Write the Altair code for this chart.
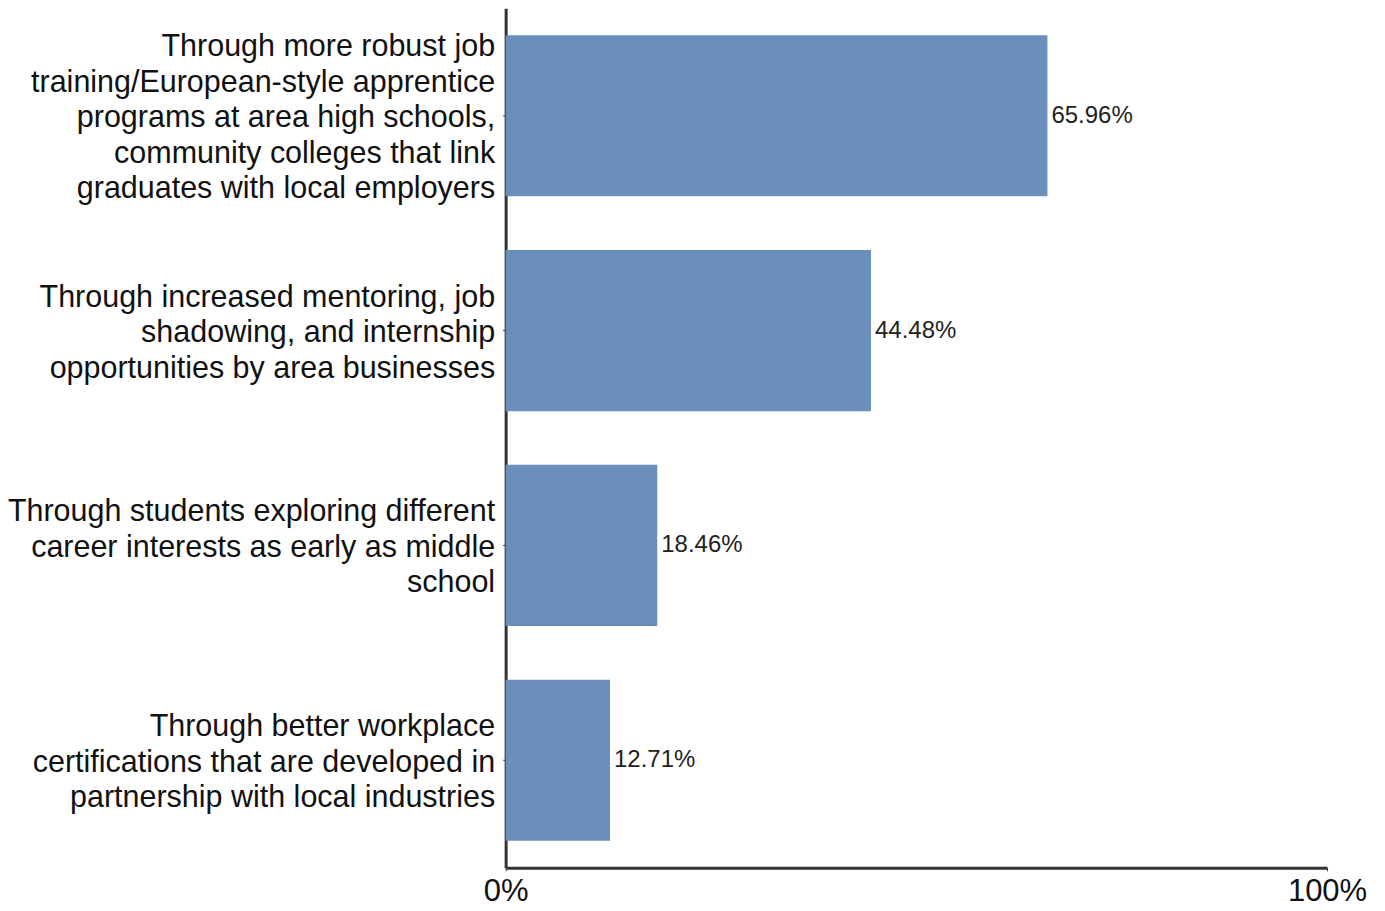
import altair as alt
import pandas as pd

categories = [
    "Through more robust job|training/European-style apprentice|programs at area high schools,|community colleges that link|graduates with local employers",
    "Through increased mentoring, job|shadowing, and internship|opportunities by area businesses",
    "Through students exploring different|career interests as early as middle|school",
    "Through better workplace|certifications that are developed in|partnership with local industries",
]
values = [0.6596, 0.4448, 0.1846, 0.1271]
value_labels = ["65.96%", "44.48%", "18.46%", "12.71%"]

df = pd.DataFrame({"cat": categories, "val": values, "lab": value_labels})

LH = 35.5

y_enc = alt.Y(
    "cat:N",
    sort=categories,
    title=None,
    scale=alt.Scale(paddingInner=0.25, paddingOuter=0.125),
    axis=alt.Axis(
        labelExpr="split(datum.label, '|')",
        labelFontSize=30.5,
        labelLineHeight=LH,
        labelBaseline="middle",
        labelOffset={
            "condition": {"test": "indexof(datum.label, 'robust') >= 0", "value": -2 * LH + 2.5},
            "value": -LH + 2.5,
        },
        labelColor="#111111",
        labelFont="Liberation Sans",
        labelPadding=8,
        labelLimit=0,
        tickSize=3,
        tickColor="#333333",
        domainColor="#333333",
        domainWidth=3,
        grid=False,
    ),
)
x_enc = alt.X(
    "val:Q",
    title=None,
    scale=alt.Scale(domain=[0, 1], nice=False),
    axis=alt.Axis(
        values=[0, 1],
        format=".0%",
        labelFontSize=31,
        labelColor="#111111",
        labelFont="Liberation Sans",
        labelPadding=6,
        tickSize=3,
        tickColor="#333333",
        domainColor="#333333",
        domainWidth=3,
        grid=False,
        labelFlush=False,
    ),
)

bars = alt.Chart(df).mark_bar(color="#6a8fba").encode(x=x_enc, y=y_enc)
texts = alt.Chart(df).mark_text(
    align="left", baseline="middle", dx=4, fontSize=24,
    font="Liberation Sans", color="#222222"
).encode(x="val:Q", y=alt.Y("cat:N", sort=categories), text="lab:N")

chart = (
    (bars + texts)
    .properties(
        width=822,
        height=860,
        background="white",
        autosize=alt.AutoSizeParams(type="none"),
        padding={"left": 498, "top": 0, "right": 50, "bottom": 40},
    )
    .configure_view(strokeWidth=0, stroke="transparent")
)

chart.save("out.html", embed_options={"renderer": "svg", "actions": False})
